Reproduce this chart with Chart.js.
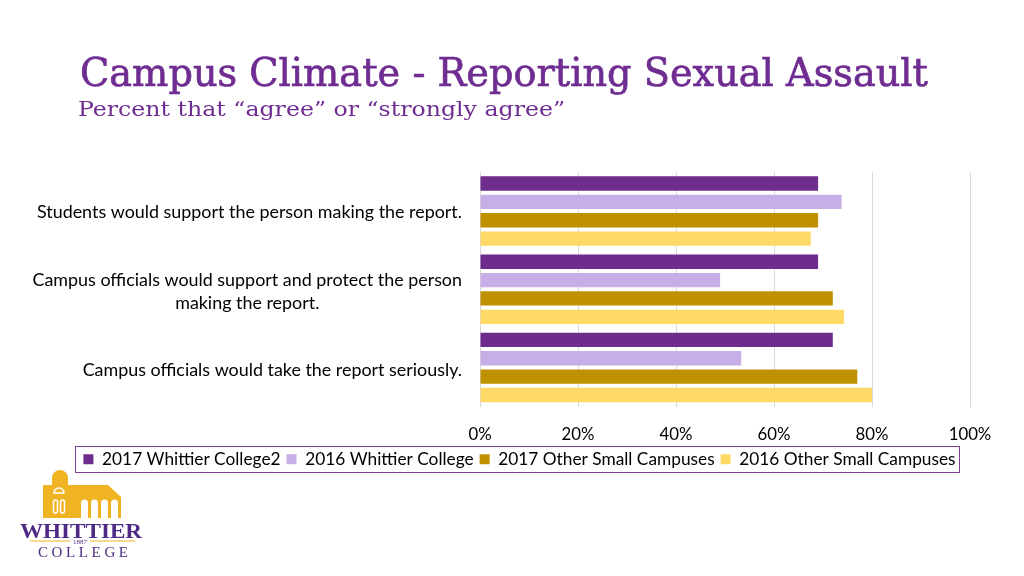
<!DOCTYPE html>
<html>
<head>
<meta charset="utf-8">
<script src="https://cdn.jsdelivr.net/npm/chart.js@4.4.1/dist/chart.umd.min.js"></script>
<style>
    body { margin: 0; width: 1024px; height: 576px; overflow: hidden; background: #fff; position: relative; }
    #chart { position: absolute; left: 0; top: 0; }
    #deco { position: absolute; left: 0; top: 0; pointer-events: none; }
</style>
</head>
<body>
<canvas id="chart" width="1024" height="576"></canvas>
<svg id="deco" width="1024" height="576">
    <!-- heading -->
    <text x="80" y="86" font-family="DejaVu Serif" font-size="39" fill="#6f2c91" stroke="#6f2c91" stroke-width="0.7" textLength="848" lengthAdjust="spacingAndGlyphs">Campus Climate - Reporting Sexual Assault</text>
    <text x="78" y="116" font-family="DejaVu Serif" font-size="20" fill="#6f2c91" textLength="487" lengthAdjust="spacingAndGlyphs">Percent that “agree” or “strongly agree”</text>
    <!-- college logo -->
    <g fill="#f0b323">
        <path d="M43 518 V485 H52 V478 A8 8 0 0 1 68 478 V485 H76 V518 Z"/>
        <path d="M76 518 V485 H108 L121 497 V518 Z"/>
    </g>
    <g fill="none" stroke="#fff" stroke-width="1.5">
        <path d="M54 493 A5 5 0 0 1 64 493 Z"/>
        <rect x="53.5" y="500" width="4" height="13" rx="2"/>
        <rect x="60.5" y="500" width="4" height="13" rx="2"/>
    </g>
    <g fill="#fff">
        <path d="M81 518 V503 A3.5 3.5 0 0 1 88 503 V518 Z"/>
        <path d="M91 518 V503 A3.5 3.5 0 0 1 98 503 V518 Z"/>
        <path d="M101 518 V503 A3.5 3.5 0 0 1 108 503 V518 Z"/>
        <path d="M111 518 V503 A3.5 3.5 0 0 1 118 503 V518 Z"/>
    </g>
    <text x="20" y="538" font-family="Liberation Serif" font-weight="bold" font-size="21" fill="#4e2a84" textLength="122" lengthAdjust="spacingAndGlyphs">WHITTIER</text>
    <line x1="30" y1="541" x2="70" y2="541" stroke="#f0b323" stroke-width="1"/>
    <line x1="90" y1="541" x2="135" y2="541" stroke="#f0b323" stroke-width="1"/>
    <text x="80" y="544" font-family="Liberation Serif" font-size="7" fill="#4e2a84" text-anchor="middle">1887</text>
    <text x="38" y="557" font-family="Liberation Serif" font-size="15" fill="#4e2a84" textLength="90" lengthAdjust="spacing">COLLEGE</text>
</svg>
<script>
// chart data
const categories = [
    ['Students would support the person making the report.'],
    ['Campus officials would support and protect the person', 'making the report.'],
    ['Campus officials would take the report seriously.']
];
const seriesNames = ['2017 Whittier College2', '2016 Whittier College', '2017 Other Small Campuses', '2016 Other Small Campuses'];
const wc2017 = [69, 69, 72];
const wc2016 = [73.8, 49, 53.3];
const other2017 = [69, 72, 77];
const other2016 = [67.5, 74.3, 80];
const tickValues = [0, 20, 40, 60, 80, 100];

const colors = ['#6e2c8c', '#c8aee6', '#bf9000', '#ffd966'];
const font = 'Lato';

// category labels: block right aligned, lines centred inside it
const catLabelPlugin = {
    id: 'catLabels',
    afterDraw(chart) {
        const c = chart.ctx;
        const y = chart.scales.y;
        c.save();
        c.font = '17.9px ' + font;
        c.fillStyle = '#000';
        c.textAlign = 'center';
        c.textBaseline = 'middle';
        categories.forEach((lines, i) => {
            const w = Math.max(...lines.map(l => c.measureText(l).width));
            const cx = 462 - w / 2;
            const cy = y.getPixelForValue(i) + 1 + i;
            const lh = 23;
            lines.forEach((l, j) => {
                c.fillText(l, cx, cy + (j - (lines.length - 1) / 2) * lh);
            });
        });
        c.restore();
    }
};

// border around legend
const legendBoxPlugin = {
    id: 'legendBox',
    afterDraw(chart) {
        const boxes = chart.legend.legendHitBoxes;
        if (!boxes.length) return;
        const first = boxes[0], last = boxes[boxes.length - 1];
        const c = chart.ctx;
        c.save();
        c.strokeStyle = '#7f3f98';
        c.lineWidth = 1;
        const left = first.left - 8, right = last.left + last.width + 4;
        c.strokeRect(Math.round(left) + 0.5, 446.5, Math.round(right - left), 26);
        c.restore();
    }
};

const ctx = document.getElementById('chart').getContext('2d');
new Chart(ctx, {
    type: 'bar',
    data: {
        labels: categories.map(l => l.join(' ')),
        datasets: [wc2017, wc2016, other2017, other2016].map((d, i) => ({
            label: seriesNames[i],
            data: d,
            backgroundColor: colors[i],
            borderWidth: 0,
            barPercentage: 0.78,
            categoryPercentage: 0.94
        }))
    },
    options: {
        indexAxis: 'y',
        responsive: false,
        animation: false,
        layout: { padding: { left: 69, right: 54, top: 172, bottom: 98 } },
        scales: {
            x: {
                min: 0,
                max: 100,
                afterBuildTicks: scale => { scale.ticks = tickValues.map(v => ({ value: v })); },
                afterFit: scale => { scale.height -= 18; },
                ticks: {
                    callback: v => v + '%',
                    font: { family: font, size: 16.8 },
                    color: '#000',
                    padding: 18,
                    maxRotation: 0
                },
                grid: { color: '#d9d9d9', drawTicks: false },
                border: { display: false }
            },
            y: {
                afterFit: scale => { scale.width = 480 - 69; },
                ticks: { display: false },
                grid: { display: false },
                border: { display: false }
            }
        },
        plugins: {
            legend: {
                position: 'bottom',
                labels: {
                    font: { family: font, size: 17.3 },
                    color: '#000',
                    boxWidth: 10,
                    boxHeight: 10,
                    padding: 6
                }
            },
            tooltip: { enabled: false }
        }
    },
    plugins: [catLabelPlugin, legendBoxPlugin]
});
</script>
</body>
</html>
